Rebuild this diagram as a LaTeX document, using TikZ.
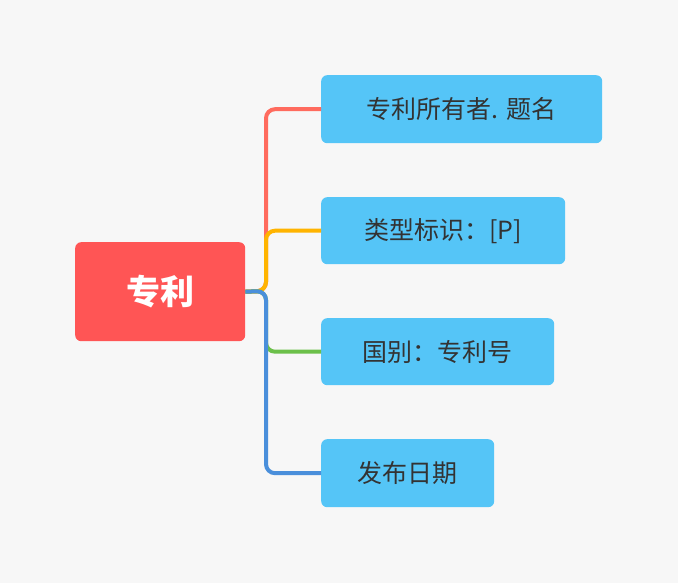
\documentclass[tikz,border=0pt]{standalone}
\usepackage{fontspec}
\newfontfamily\cjk{Noto Sans CJK SC}
\begin{document}
\begin{tikzpicture}[x=1pt,y=-1pt,
  box/.style={rounded corners=6pt,inner sep=0pt,anchor=north west,fill=cbox,text=ctext,font=\cjk\fontsize{25}{30}\selectfont},
  conn/.style={line width=4pt,rounded corners=9pt}]
\definecolor{cbg}{HTML}{F7F7F7}
\definecolor{cbox}{HTML}{55C5F7}
\definecolor{ctext}{HTML}{333333}
\definecolor{croot}{HTML}{FF5555}
\definecolor{c1}{HTML}{FF6B5E}
\definecolor{c2}{HTML}{FFB400}
\definecolor{c3}{HTML}{6CC04A}
\definecolor{c4}{HTML}{4A8FDB}
\fill[cbg] (0,0) rectangle (678,583);
\useasboundingbox (0,0) rectangle (678,583);
\node[box,fill=croot,text=white,font=\cjk\bfseries\fontsize{34}{40}\selectfont,minimum width=170pt,minimum height=99pt] (root) at (75,242) {专利};
\node[box,minimum width=281pt,minimum height=68pt] (a) at (321,75) {专利所有者. 题名};
\node[box,minimum width=244pt,minimum height=67pt] (b) at (321,197) {类型标识：[P]};
\node[box,minimum width=233pt,minimum height=67pt] (c) at (321,318) {国别：专利号};
\node[box,minimum width=173pt,minimum height=68pt] (d) at (321,439) {发布日期};
\coordinate (j) at (266,291);
\draw[conn,c1] (root.east) -- (j) |- (a.west);
\draw[conn,c2] (root.east) -- (j) |- (b.west);
\draw[conn,c3] (root.east) -- (j) |- (c.west);
\draw[conn,c4] (root.east) -- (j) |- (d.west);
\end{tikzpicture}
\end{document}
